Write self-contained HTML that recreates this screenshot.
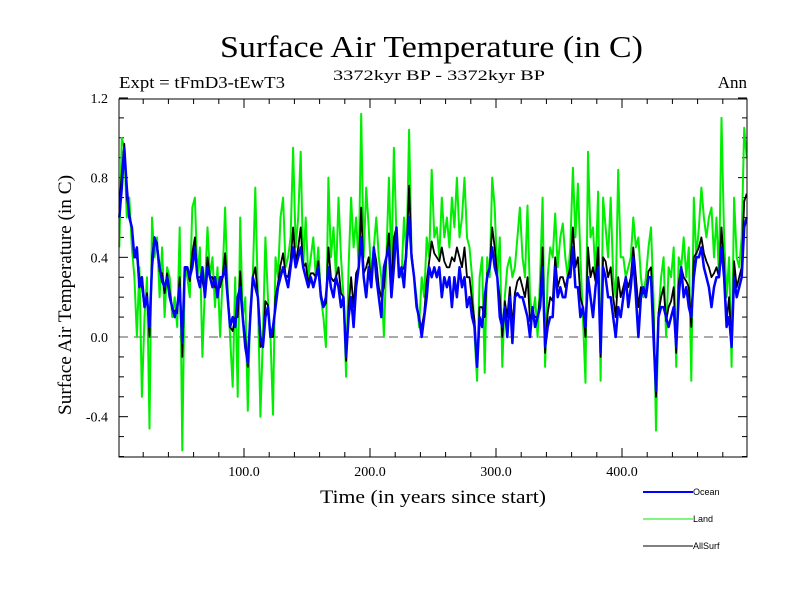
<!DOCTYPE html>
<html><head><meta charset="utf-8"><style>
body{margin:0;background:#fff}
svg{display:block;font-family:"Liberation Serif",serif}
</style></head><body>
<svg id="chart" width="800" height="600" viewBox="0 0 800 600">
<rect width="800" height="600" fill="#fff"/>
<text x="220" y="57" font-size="31" textLength="423" lengthAdjust="spacingAndGlyphs">Surface Air Temperature (in C)</text>
<text x="119" y="88" font-size="17" textLength="166" lengthAdjust="spacingAndGlyphs">Expt = tFmD3-tEwT3</text>
<text x="333" y="80" font-size="15" textLength="212" lengthAdjust="spacingAndGlyphs">3372kyr BP - 3372kyr BP</text>
<text x="747" y="88" font-size="17" text-anchor="end">Ann</text>
<text transform="translate(71,295) rotate(-90)" font-size="19" text-anchor="middle" textLength="240" lengthAdjust="spacingAndGlyphs">Surface Air Temperature (in C)</text>
<text x="320" y="503" font-size="19" textLength="226" lengthAdjust="spacingAndGlyphs">Time (in years since start)</text>
<g id="ticks"></g>
<line x1="119" x2="747" y1="337" y2="337" stroke="#555" stroke-width="1" stroke-dasharray="9,6"/>
<g id="series"></g>
<rect x="119" y="99" width="628" height="358" fill="none" stroke="#000" stroke-width="1"/>
<g font-family="Liberation Sans, sans-serif" font-size="9">
<line x1="643" x2="693" y1="492" y2="492" stroke="#0000ff" stroke-width="2"/>
<text x="693" y="495">Ocean</text>
<line x1="643" x2="693" y1="519" y2="519" stroke="#00ee00" stroke-width="1"/>
<text x="693" y="522">Land</text>
<line x1="643" x2="693" y1="546" y2="546" stroke="#000" stroke-width="1"/>
<text x="693" y="549">AllSurf</text>
</g>
</svg>
<script>
const years0 = 0, yearStep = 2;
const xTicks = [100, 200, 300, 400];
const xTickLabels = ["100.0", "200.0", "300.0", "400.0"];
const yTicks = [1.2, 0.8, 0.4, 0.0, -0.4];
const yTickLabels = ["1.2", "0.8", "0.4", "0.0", "-0.4"];
const landValues = [
0.45,1.0,0.95,0.6,0.7,0.45,0.3,0.0,0.35,-0.3,
0.1,0.3,-0.46,0.6,0.4,0.5,0.2,0.45,0.1,0.35,
0.3,0.1,0.2,0.05,0.55,-0.57,0.35,0.3,0.2,0.65,
0.7,0.3,0.45,-0.1,0.25,0.55,0.3,0.4,0.15,0.35,
0.0,0.3,0.65,0.25,0.0,-0.25,0.3,-0.3,0.6,0.1,
0.2,-0.37,0.15,0.3,0.75,0.2,-0.4,0.0,0.5,0.2,
0.0,-0.39,0.4,0.3,0.6,0.7,0.35,0.4,0.5,0.95,
0.45,0.6,0.93,0.35,0.6,0.3,0.4,0.5,0.3,0.45,
0.2,0.1,-0.05,0.8,0.4,0.55,0.3,0.7,0.4,0.2,
-0.2,0.35,0.7,0.45,0.6,0.35,1.12,0.4,0.75,0.55,
0.3,0.45,0.6,0.4,0.3,0.0,0.4,0.8,0.35,0.95,
0.5,0.35,0.3,0.6,0.4,1.04,0.4,0.3,0.2,0.05,
0.3,0.2,0.5,0.4,0.84,0.5,0.55,0.4,0.7,0.5,
0.6,0.45,0.7,0.55,0.8,0.5,0.6,0.8,0.5,0.45,
0.3,0.0,-0.22,0.3,0.4,-0.18,0.4,0.3,0.8,0.65,
0.3,0.5,-0.15,0.2,0.35,0.4,0.3,0.35,0.5,0.65,
0.4,0.3,0.66,0.2,0.1,0.2,0.0,0.3,0.7,-0.15,
0.3,0.45,0.4,0.62,0.35,0.5,0.57,0.4,0.3,0.45,
0.85,0.5,0.77,0.4,0.1,-0.23,0.93,0.5,0.55,0.3,
0.73,-0.22,0.7,0.55,0.4,0.7,0.3,0.2,0.84,0.4,
0.4,0.3,0.35,0.4,0.6,0.45,0.5,0.3,0.2,0.3,
0.45,0.55,0.2,-0.47,0.1,0.3,0.4,0.0,0.35,0.3,
0.45,-0.15,0.4,0.35,0.5,0.3,0.45,-0.22,0.7,0.4,
0.55,0.75,0.6,0.5,0.6,0.65,0.4,0.6,0.3,1.1,
0.5,0.2,0.4,-0.15,0.7,0.4,0.35,0.5,1.05,0.9];
const oceanValues = [
0.6,0.75,0.95,0.75,0.6,0.55,0.4,0.45,0.25,0.3,
0.15,0.2,0.05,0.35,0.5,0.45,0.35,0.28,0.25,0.3,
0.2,0.15,0.1,0.15,0.25,-0.03,0.35,0.35,0.3,0.35,
0.45,0.3,0.25,0.35,0.2,0.35,0.3,0.25,0.3,0.2,
0.3,0.3,0.35,0.2,0.05,0.1,0.05,0.2,0.25,0.1,
-0.05,-0.13,0.1,0.3,0.25,0.2,0.0,-0.05,0.1,0.15,
0.0,0.05,0.15,0.25,0.3,0.35,0.3,0.25,0.35,0.45,
0.35,0.4,0.45,0.35,0.3,0.25,0.3,0.25,0.3,0.35,
0.2,0.15,0.2,0.35,0.25,0.2,0.3,0.25,0.15,0.2,
-0.1,0.1,0.2,0.05,0.25,0.35,0.5,0.3,0.2,0.35,
0.25,0.45,0.3,0.2,0.1,0.35,0.4,0.45,0.2,0.35,
0.55,0.3,0.35,0.25,0.45,0.6,0.4,0.3,0.15,0.1,
0.0,0.1,0.2,0.35,0.3,0.35,0.3,0.35,0.2,0.3,
0.25,0.3,0.15,0.3,0.2,0.35,0.25,0.3,0.15,0.2,
0.1,0.05,-0.15,0.1,0.05,0.2,0.3,0.35,0.45,0.35,
0.3,0.1,0.05,0.15,0.0,0.2,-0.03,0.2,0.22,0.2,
0.2,0.15,0.1,0.0,0.15,0.05,0.1,0.15,0.35,-0.05,
0.05,0.1,0.1,0.35,0.2,0.25,0.2,0.2,0.3,0.3,
0.45,0.25,0.25,0.1,0.15,0.05,0.3,0.2,0.1,0.25,
0.35,-0.08,0.35,0.3,0.2,0.2,0.1,0.0,0.15,0.1,
0.2,0.3,0.15,0.25,0.4,0.2,0.0,0.2,0.25,0.2,
0.3,0.3,0.0,-0.27,0.1,0.15,0.15,0.1,0.05,0.1,
0.15,-0.05,0.2,0.35,0.2,0.25,0.15,0.1,0.3,0.4,
0.4,0.45,0.35,0.3,0.25,0.15,0.25,0.3,0.3,0.45,
0.3,0.05,0.1,-0.05,0.3,0.2,0.25,0.3,0.55,0.6];
const allSurfValues = [
0.65,0.82,0.97,0.7,0.62,0.55,0.4,0.4,0.3,0.25,
0.15,0.22,0.0,0.4,0.5,0.47,0.33,0.32,0.22,0.32,
0.23,0.14,0.13,0.12,0.3,-0.1,0.35,0.34,0.28,0.42,
0.5,0.3,0.3,0.28,0.22,0.4,0.3,0.3,0.25,0.24,
0.25,0.3,0.42,0.22,0.05,0.03,0.1,0.1,0.33,0.1,
0.0,-0.15,0.12,0.3,0.35,0.2,-0.05,-0.03,0.18,0.16,
0.0,0.0,0.2,0.27,0.36,0.42,0.31,0.3,0.38,0.55,
0.37,0.45,0.55,0.35,0.37,0.27,0.32,0.32,0.3,0.38,
0.22,0.15,0.17,0.45,0.3,0.28,0.3,0.35,0.22,0.2,
-0.12,0.15,0.3,0.15,0.32,0.35,0.65,0.32,0.35,0.4,
0.27,0.45,0.38,0.25,0.2,0.25,0.4,0.52,0.25,0.5,
0.55,0.32,0.33,0.35,0.42,0.76,0.42,0.3,0.17,0.08,
0.05,0.12,0.28,0.38,0.48,0.42,0.4,0.38,0.45,0.38,
0.35,0.35,0.4,0.38,0.45,0.4,0.35,0.45,0.3,0.3,
0.18,0.08,-0.15,0.15,0.15,0.1,0.32,0.35,0.55,0.45,
0.3,0.2,0.0,0.18,0.1,0.25,0.05,0.22,0.28,0.3,
0.25,0.2,0.3,0.08,0.12,0.1,0.1,0.2,0.45,-0.08,
0.12,0.2,0.18,0.4,0.25,0.3,0.3,0.25,0.3,0.35,
0.55,0.35,0.4,0.2,0.15,0.0,0.45,0.3,0.35,0.28,
0.45,-0.1,0.4,0.38,0.3,0.35,0.2,0.1,0.3,0.2,
0.25,0.3,0.25,0.3,0.45,0.3,0.15,0.25,0.22,0.22,
0.33,0.35,0.1,-0.3,0.12,0.2,0.25,0.08,0.15,0.18,
0.25,-0.08,0.27,0.35,0.3,0.28,0.25,0.05,0.4,0.42,
0.45,0.5,0.42,0.38,0.35,0.3,0.32,0.35,0.3,0.55,
0.35,0.08,0.2,-0.05,0.38,0.25,0.3,0.35,0.68,0.72];

const NS = "http://www.w3.org/2000/svg";
const X0 = 118, XS = 1.26, Y0 = 337, YS = 199.2;
function xScale(t){ return X0 + XS * t; }
function yScale(v){ return Y0 - YS * v; }

const tg = document.getElementById("ticks");
function addLine(x1,y1,x2,y2,name){
  const l = document.createElementNS(NS,"line");
  l.setAttribute("x1",x1); l.setAttribute("y1",y1); l.setAttribute("x2",x2); l.setAttribute("y2",y2);
  l.setAttribute("stroke","#000"); l.setAttribute("stroke-width","1");
  
  
  tg.appendChild(l);
}
function addText(x,y,s,anchor,name){
  const t = document.createElementNS(NS,"text");
  t.setAttribute("x",x); t.setAttribute("y",y); t.setAttribute("font-size","14"); t.setAttribute("text-anchor",anchor);
  t.textContent = s;
  
  
  tg.appendChild(t);
}
for (let t = 20; t < 500; t += 20) {
  const x = xScale(t), major = (t % 100 === 0), len = major ? 9 : 5;
  addLine(x, 457, x, 457 - len, "x-tick");
  addLine(x, 99, x, 99 + len, "x-tick-top");
}
xTicks.forEach((t,i)=>addText(xScale(t), 476, xTickLabels[i], "middle", "x-tick-label"));
for (let k = -6; k <= 12; k++) {
  const v = k / 10, y = yScale(v), major = (k % 4 === 0), len = major ? 9 : 5;
  addLine(119, y, 119 + len, y, "y-tick");
  addLine(747, y, 747 - len, y, "y-tick-right");
}
yTicks.forEach((v,i)=>addText(108, yScale(v) + 5, yTickLabels[i], "end", "y-tick-label"));

const sg = document.getElementById("series");
function drawSeries(vals, color, width, name){
  let d = "";
  vals.forEach((v,i)=>{
    const t = years0 + i * yearStep + 1;
    d += (i ? "L" : "M") + xScale(t).toFixed(1) + "," + yScale(v).toFixed(1);
  });
  const p = document.createElementNS(NS,"path");
  p.setAttribute("d", d); p.setAttribute("fill","none"); p.setAttribute("stroke",color);
  p.setAttribute("stroke-width", width); p.setAttribute("stroke-linejoin","round");
  
  
  sg.appendChild(p);
}
drawSeries(landValues, "#00ee00", 2, "land-series");
drawSeries(allSurfValues, "#000000", 1.8, "allsurf-series");
drawSeries(oceanValues, "#0000ff", 2.5, "ocean-series");
</script>
</body></html>
